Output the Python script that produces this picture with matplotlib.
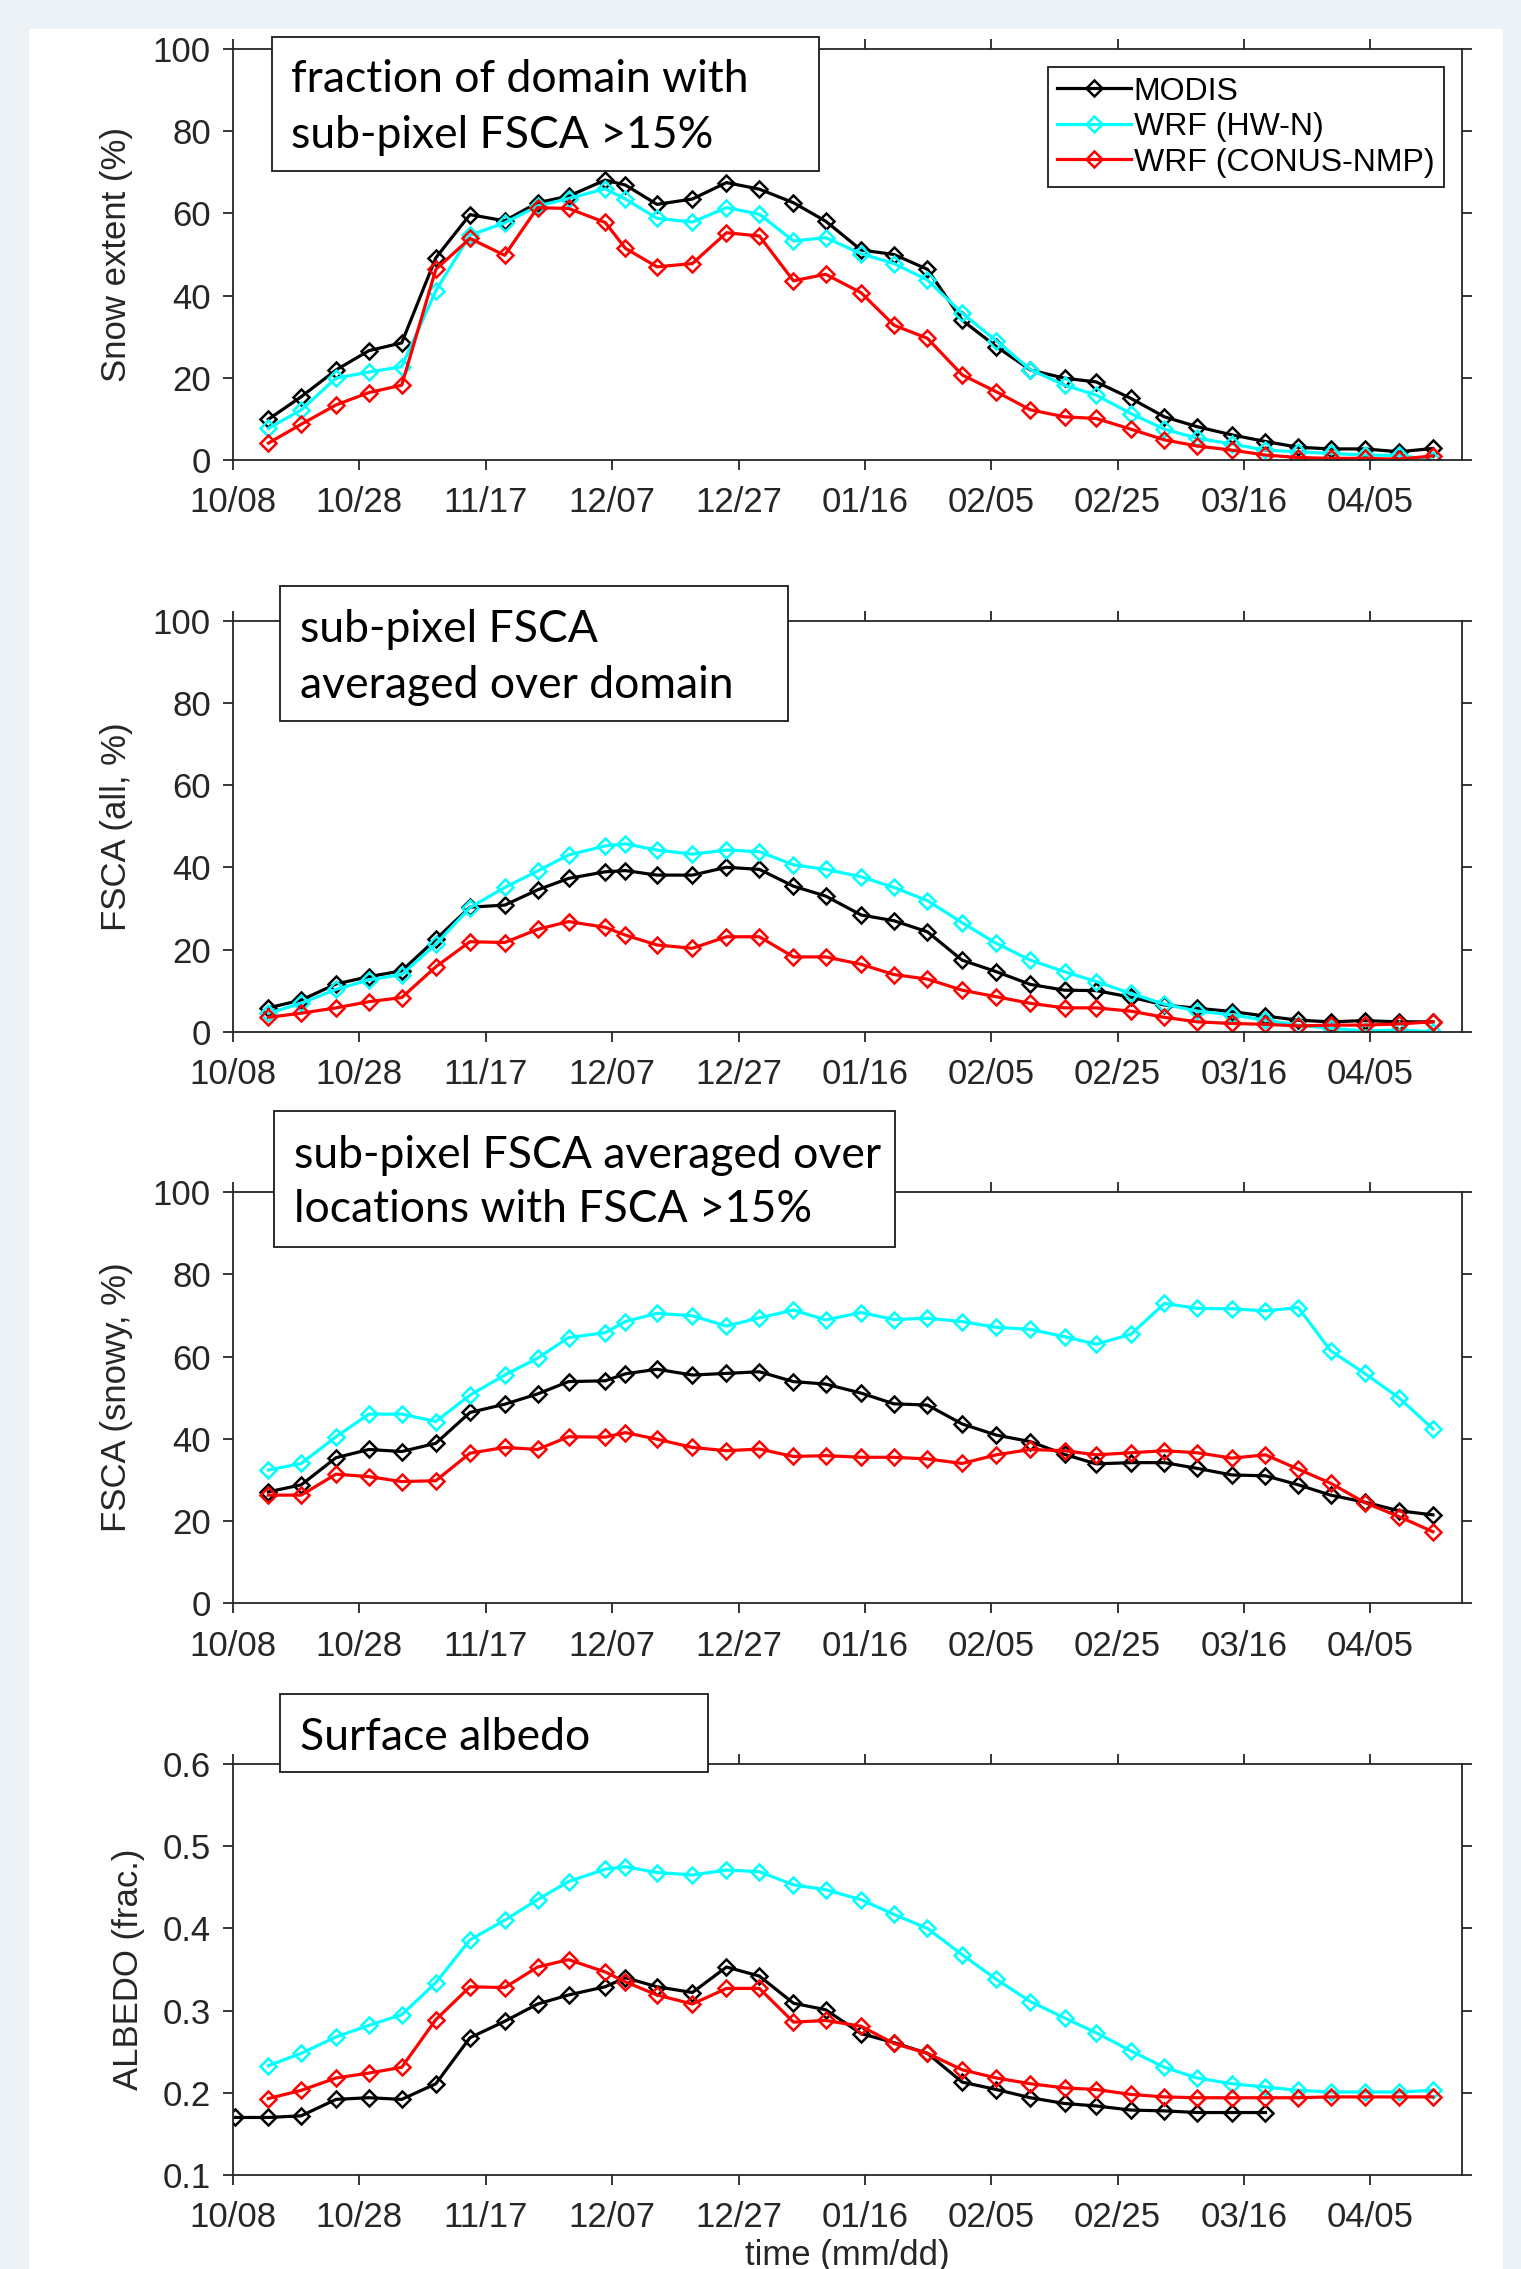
import matplotlib
matplotlib.use("Agg")
import matplotlib.pyplot as plt
from matplotlib.patches import Rectangle

W, H = 1521, 2269

# day offsets from 10/08 for each sample
days = [0.3, 5.6, 10.8, 16.3, 21.5, 26.7, 32.1, 37.5, 43.0, 48.2, 53.1, 58.9, 62.1,
        67.1, 72.7, 78.1, 83.3, 88.7, 93.8, 99.4, 104.6, 109.9, 115.4, 120.8, 126.2,
        131.6, 136.6, 142.1, 147.4, 152.6, 158.1, 163.4, 168.6, 173.7, 179.1, 184.5, 189.9]

tick_days = [0, 20, 40, 60, 80, 100, 120, 140, 160, 180]
tick_labels = ["10/08", "10/28", "11/17", "12/07", "12/27", "01/16", "02/05", "02/25", "03/16", "04/05"]

snow_modis = [9.9, 15.4, 21.9, 26.6, 28.5, 49.2, 59.7, 58.2, 62.6, 64.2, 68.1, 66.9, 62.2, 63.5, 67.5, 65.9,
              62.6, 58.1, 51.1, 50.0, 46.4, 34.0, 27.6, 21.9, 19.9, 19.0, 15.0, 10.5, 8.1, 6.1, 4.5, 3.1,
              2.7, 2.7, 2.0, 2.8]
snow_hwn = [7.7, 12.2, 19.9, 21.4, 22.7, 41.2, 54.7, 57.7, 61.8, 63.6, 66.0, 63.5, 58.8, 57.9, 61.4, 59.8,
            53.3, 54.1, 50.2, 47.8, 43.8, 35.7, 29.0, 22.0, 18.2, 15.8, 11.3, 7.5, 5.3, 3.9, 2.4, 2.0,
            1.6, 1.2, 1.1, 0.0]
snow_conus = [4.1, 8.7, 13.4, 16.4, 18.2, 46.4, 53.9, 49.8, 61.4, 61.2, 57.8, 51.5, 47.0, 47.8, 55.3, 54.5,
              43.6, 45.2, 40.7, 32.8, 29.6, 20.7, 16.6, 12.2, 10.5, 10.1, 7.5, 4.9, 3.4, 2.4, 1.2, 0.6,
              0.4, 0.4, 0.2, 1.0]

fsca_all_modis = [5.8, 7.7, 11.6, 13.4, 14.8, 22.5, 30.3, 30.8, 34.5, 37.3, 38.9, 39.2, 38.1, 38.1, 40.0, 39.5,
                  35.4, 33.0, 28.4, 27.0, 24.3, 17.4, 14.6, 11.5, 10.1, 10.0, 8.4, 6.5, 5.7, 4.9, 3.8, 2.8,
                  2.4, 2.7, 2.4, 2.4]
fsca_all_hwn = [4.5, 6.9, 10.3, 12.6, 13.9, 21.3, 30.2, 35.1, 39.1, 43.0, 45.2, 45.7, 44.2, 43.2, 44.2, 43.8,
                40.6, 39.5, 37.7, 35.1, 31.9, 26.5, 21.5, 17.4, 14.6, 12.2, 9.3, 6.7, 5.0, 4.1, 2.8, 1.6,
                0.8, 0.2, 0.4, 0.0]
fsca_all_conus = [3.5, 4.5, 5.8, 7.3, 8.3, 15.8, 21.9, 21.7, 24.9, 26.8, 25.4, 23.5, 21.1, 20.3, 23.1, 23.1,
                  18.2, 18.2, 16.4, 13.9, 12.8, 10.1, 8.5, 6.9, 5.8, 5.8, 5.0, 3.5, 2.4, 2.0, 1.8, 1.4,
                  1.6, 1.6, 1.9, 2.4]

fsca_snowy_modis = [27.1, 28.8, 35.4, 37.4, 36.9, 38.9, 46.4, 48.4, 50.9, 53.9, 54.1, 55.8, 56.9, 55.5, 55.9, 56.3,
                    53.9, 53.3, 51.1, 48.5, 48.2, 43.6, 40.9, 39.3, 36.2, 33.9, 34.2, 34.2, 32.8, 31.2, 31.0, 28.8,
                    26.3, 24.6, 22.5, 21.5]
fsca_snowy_hwn = [32.4, 34.0, 40.5, 46.0, 46.0, 44.2, 50.6, 55.5, 59.6, 64.6, 65.8, 68.5, 70.5, 69.9, 67.4, 69.4,
                  71.3, 68.9, 70.7, 69.0, 69.3, 68.5, 67.1, 66.6, 64.8, 63.0, 65.4, 72.9, 71.7, 71.6, 71.1, 71.9,
                  61.4, 55.9, 50.0, 42.4]
fsca_snowy_conus = [26.3, 26.3, 31.4, 30.8, 29.6, 29.8, 36.5, 37.9, 37.4, 40.5, 40.4, 41.5, 39.9, 37.9, 37.1, 37.5,
                    35.7, 35.9, 35.5, 35.5, 35.1, 34.0, 36.1, 37.4, 37.1, 36.1, 36.6, 37.1, 36.6, 35.3, 36.1, 32.6,
                    29.2, 24.5, 21.1, 17.4]

# MODIS albedo starts one sample earlier and stops at 03/19
albedo_modis = [0.170, 0.170, 0.172, 0.192, 0.194, 0.192, 0.211, 0.267, 0.287, 0.308, 0.319, 0.329, 0.340,
                0.329, 0.322, 0.353, 0.342, 0.309, 0.301, 0.272, 0.261, 0.248, 0.213, 0.204, 0.194, 0.187,
                0.184, 0.179, 0.178, 0.176, 0.176, 0.176]
albedo_hwn = [0.233, 0.248, 0.268, 0.282, 0.295, 0.334, 0.386, 0.410, 0.435, 0.457, 0.472, 0.475, 0.468, 0.465,
              0.471, 0.469, 0.453, 0.447, 0.435, 0.417, 0.400, 0.368, 0.338, 0.311, 0.291, 0.273, 0.251, 0.231,
              0.218, 0.211, 0.207, 0.203, 0.201, 0.201, 0.201, 0.203]
albedo_conus = [0.193, 0.203, 0.218, 0.224, 0.231, 0.289, 0.329, 0.328, 0.353, 0.362, 0.347, 0.335, 0.319, 0.308,
                0.327, 0.327, 0.286, 0.288, 0.281, 0.260, 0.248, 0.228, 0.218, 0.211, 0.206, 0.204, 0.198, 0.195,
                0.194, 0.194, 0.194, 0.194, 0.195, 0.195, 0.195, 0.195]

series_names = ["MODIS", "WRF (HW-N)", "WRF (CONUS-NMP)"]
series_colors = ["black", "#00ffff", "#ff0000"]

AX_FONT = ["Liberation Sans", "DejaVu Sans"]
BOX_FONT = ["Lato", "DejaVu Sans"]
GREY = "#262626"

fig = plt.figure(figsize=(W / 100, H / 100), dpi=100, facecolor="#edf2f6")
fig.patches.append(Rectangle((29 / W, 0), (1503 - 29) / W, 1 - 29 / H, transform=fig.transFigure,
                             facecolor="white", edgecolor="none", zorder=-10))


def px_box(x0, y0, x1, y1, lines, text_x, line_y):
    fig.patches.append(Rectangle((x0 / W, 1 - y1 / H), (x1 - x0) / W, (y1 - y0) / H,
                                 transform=fig.transFigure, facecolor="white",
                                 edgecolor="#1a1a1a", linewidth=1.3, zorder=5))
    for txt, ly in zip(lines, line_y):
        fig.text(text_x / W, 1 - ly / H, txt, fontsize=32, family=BOX_FONT,
                 ha="left", va="center", zorder=6)


panels = [
    dict(top=49, bottom=460, ylim=(0, 100), yticks=[0, 20, 40, 60, 80, 100], ylabel="Snow extent (%)",
         x_index=[1, 1, 1], data=[snow_modis, snow_hwn, snow_conus], label_x=-0.081),
    dict(top=620.7, bottom=1031.7, ylim=(0, 100), yticks=[0, 20, 40, 60, 80, 100], ylabel="FSCA (all, %)",
         x_index=[1, 1, 1], data=[fsca_all_modis, fsca_all_hwn, fsca_all_conus], label_x=-0.081),
    dict(top=1192, bottom=1603.3, ylim=(0, 100), yticks=[0, 20, 40, 60, 80, 100], ylabel="FSCA (snowy, %)",
         x_index=[1, 1, 1], data=[fsca_snowy_modis, fsca_snowy_hwn, fsca_snowy_conus], label_x=-0.081),
    dict(top=1764, bottom=2175, ylim=(0.1, 0.6), yticks=[0.1, 0.2, 0.3, 0.4, 0.5, 0.6], ylabel="ALBEDO (frac.)",
         x_index=[0, 1, 1], data=[albedo_modis, albedo_hwn, albedo_conus], label_x=-0.072),
]

axes = []
for p in panels:
    ax = fig.add_axes([233 / W, 1 - p["bottom"] / H, (1462 - 233) / W, (p["bottom"] - p["top"]) / H])
    for name, color, start, vals in zip(series_names, series_colors, p["x_index"], p["data"]):
        ax.plot(days[start:start + len(vals)], vals, color=color, lw=2.3, marker="D", ms=8.5,
                mfc="none", mec=color, mew=1.8, label=name)
    ax.set_xlim(0, 194.5)
    ax.set_ylim(*p["ylim"])
    ax.set_xticks(tick_days)
    ax.set_xticklabels(tick_labels, family=AX_FONT)
    ax.set_yticks(p["yticks"])
    if p["ylim"][1] < 1:
        ax.set_yticklabels([f"{v:.1f}" for v in p["yticks"]], family=AX_FONT)
    else:
        ax.set_yticklabels([str(v) for v in p["yticks"]], family=AX_FONT)
    ax.tick_params(direction="out", length=7, width=1.3, labelsize=25, colors=GREY,
                   top=True, right=True)
    ax.tick_params(axis="x", pad=12)
    ax.tick_params(axis="y", pad=9)
    for s in ax.spines.values():
        s.set_color(GREY)
        s.set_linewidth(1.3)
    ax.set_ylabel(p["ylabel"], fontsize=25, color=GREY, family=AX_FONT)
    ax.yaxis.set_label_coords(p["label_x"], 0.5)
    axes.append(ax)

axes[-1].set_xlabel("time (mm/dd)", fontsize=25, color=GREY, family=AX_FONT, labelpad=3)

leg = axes[0].legend(loc="upper right", bbox_to_anchor=(0.9854, 0.956), borderaxespad=0,
                     prop={"family": AX_FONT, "size": 23}, handlelength=2.3, handletextpad=0.1,
                     labelspacing=0.17, borderpad=0.3, fancybox=False, framealpha=1)
leg.get_frame().set_edgecolor("#1a1a1a")
leg.get_frame().set_linewidth(1.3)
leg.set_zorder(10)

px_box(272, 37, 819, 171, ["fraction of domain with", "sub-pixel FSCA >15%"], 291, [80, 135])
px_box(280, 586, 788, 721, ["sub-pixel FSCA", "averaged over domain"], 300, [630, 685])
px_box(274, 1111, 895, 1247, ["sub-pixel FSCA averaged over", "locations with FSCA >15%"], 294, [1155, 1210])
px_box(280, 1694, 708, 1772, ["Surface albedo"], 300, [1737])

fig.savefig("out.png", dpi=100, facecolor=fig.get_facecolor())
